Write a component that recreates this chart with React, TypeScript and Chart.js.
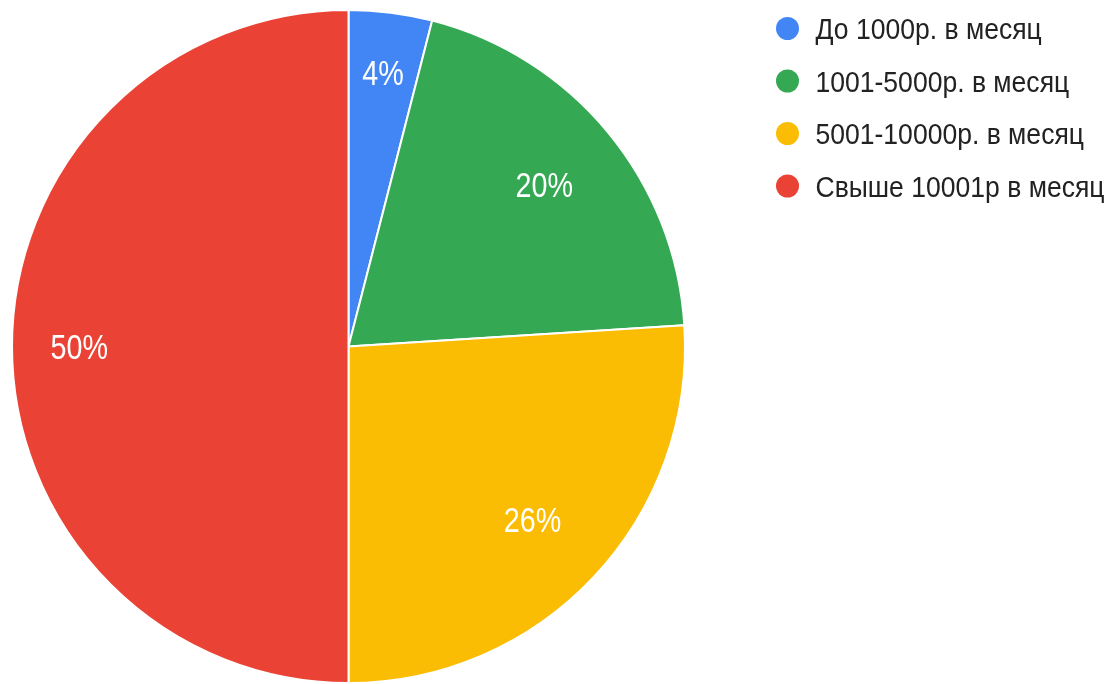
import React, { useEffect, useRef } from "react";
import { Chart, registerables } from "chart.js";

Chart.register(...registerables);

const categories = [
  "До 1000р. в месяц",
  "1001-5000р. в месяц",
  "5001-10000р. в месяц",
  "Свыше 10001р в месяц",
];
const values = [4, 20, 26, 50];
const colors = ["#4285F4", "#34A853", "#FBBC04", "#EA4335"];

const labelRadius = [0.82, 0.755, 0.75, 0.8];

const labelPlugin = {
  id: "sliceLabels",
  afterDatasetsDraw(chart: any) {
    const ctx = chart.ctx;
    const meta = chart.getDatasetMeta(0);
    const data = chart.data.datasets[0].data as number[];
    const total = data.reduce((a, b) => a + b, 0);
    ctx.save();
    ctx.fillStyle = "#ffffff";
    ctx.font = "35px 'Liberation Sans', Arial, sans-serif";
    ctx.textAlign = "center";
    ctx.textBaseline = "alphabetic";
    meta.data.forEach((arc: any, i: number) => {
      const { x, y, startAngle, endAngle, outerRadius } = arc.getProps(
        ["x", "y", "startAngle", "endAngle", "outerRadius"],
        true
      );
      const mid = (startAngle + endAngle) / 2;
      const r = outerRadius * labelRadius[i];
      const pct = Math.round((data[i] / total) * 100) + "%";
      const px = x + Math.cos(mid) * r;
      const py = y + Math.sin(mid) * r;
      ctx.save();
      ctx.translate(px, py + 12.5);
      ctx.scale(0.82, 1);
      ctx.fillText(pct, 0, 0);
      ctx.restore();
    });
    ctx.restore();
  },
};

const legendPlugin = {
  id: "customLegend",
  afterDraw(chart: any) {
    const ctx = chart.ctx;
    const area = chart.chartArea;
    const labels = chart.data.labels as string[];
    const bg = chart.data.datasets[0].backgroundColor as string[];
    const x0 = area.right + 101.5;
    const y0 = 28.5;
    const step = 52.5;
    ctx.save();
    ctx.font = "29px 'Liberation Sans', Arial, sans-serif";
    ctx.textBaseline = "alphabetic";
    ctx.textAlign = "left";
    labels.forEach((lab, i) => {
      const y = y0 + i * step;
      ctx.fillStyle = bg[i];
      ctx.beginPath();
      ctx.arc(x0, y, 11.5, 0, Math.PI * 2);
      ctx.fill();
      ctx.fillStyle = "#222222";
      ctx.save();
      ctx.translate(x0 + 28, y + 10.5);
      ctx.scale(0.915, 1);
      ctx.fillText(lab, 0, 0);
      ctx.restore();
    });
    ctx.restore();
  },
};

export default function App() {
  const ref = useRef<HTMLCanvasElement | null>(null);
  useEffect(() => {
    if (!ref.current) return;
    const chart = new Chart(ref.current, {
      type: "pie",
      data: {
        labels: categories,
        datasets: [
          {
            data: values,
            backgroundColor: colors,
            borderColor: "#ffffff",
            borderWidth: 2,
          },
        ],
      },
      options: {
        animation: false,
        responsive: true,
        maintainAspectRatio: false,
        layout: { padding: { left: 11, top: 9, right: 423, bottom: 0 } },
        plugins: {
          legend: { display: false },
          tooltip: { enabled: false },
        },
      },
      plugins: [labelPlugin, legendPlugin],
    });
    return () => chart.destroy();
  }, []);
  return (
    <div
      style={{
        position: "fixed",
        left: 0,
        top: 0,
        width: 1109,
        height: 684,
        background: "#ffffff",
      }}
    >
      <canvas ref={ref} />
    </div>
  );
}
